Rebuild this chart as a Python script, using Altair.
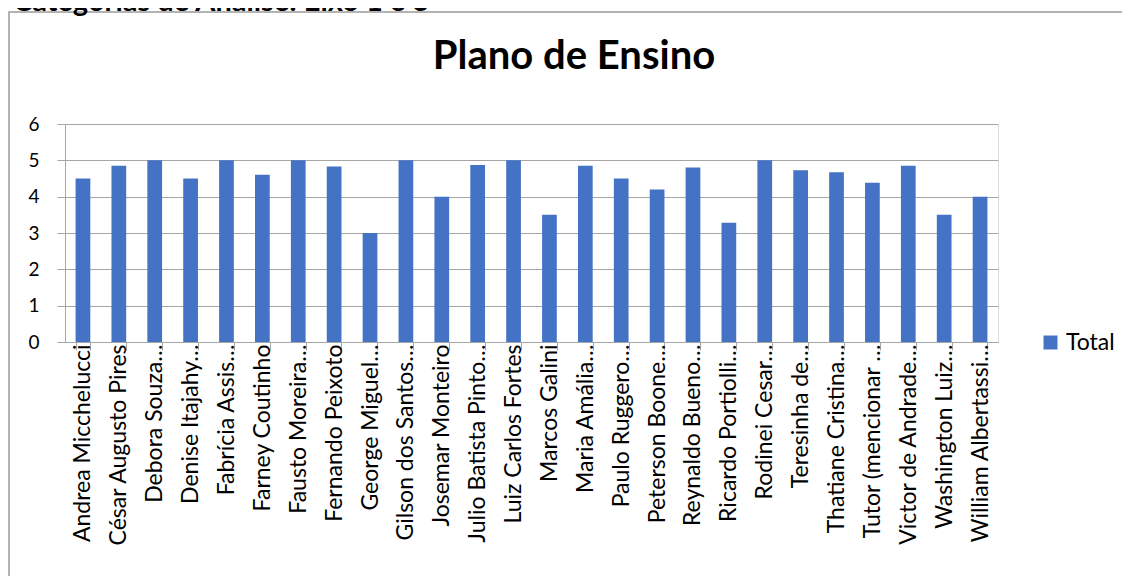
import altair as alt
import pandas as pd

categories = [
    "Andrea Micchelucci", "César Augusto Pires", "Debora Souza…", "Denise Itajahy…",
    "Fabrícia Assis…", "Farney Coutinho", "Fausto Moreira…", "Fernando Peixoto",
    "George Miguel…", "Gilson dos Santos…", "Josemar Monteiro", "Julio Batista Pinto…",
    "Luiz Carlos Fortes", "Marcos Galini", "Maria Amália…", "Paulo Ruggero…",
    "Peterson Boone…", "Reynaldo Bueno…", "Ricardo Portiolli…", "Rodinei Cesar…",
    "Teresinha de…", "Thatiane Cristina…", "Tutor (mencionar …", "Victor de Andrade…",
    "Washington Luiz…", "William Albertassi…",
]
values = [4.5, 4.85, 5, 4.5, 5, 4.6, 5, 4.83, 3, 5, 4, 4.87, 5, 3.5, 4.85, 4.5,
          4.2, 4.8, 3.28, 5, 4.73, 4.67, 4.38, 4.85, 3.5, 4]
series = ["Total"] * len(categories)
y_ticks = [0, 1, 2, 3, 4, 5, 6]

FONT = "Lato"
BLUE = "#4472C4"
GRID = "#a6a6a6"
FRAME = "#b3b3b3"

df = pd.DataFrame({"nome": categories, "valor": values, "serie": series})
one = pd.DataFrame({"k": [0]})

label_expr = "indexof(datum.label, '\u2026') >= 0 ? datum.label : datum.label + '\u2002\u2009'"

bars = alt.Chart(df).mark_bar(color=BLUE).encode(
    x=alt.X(
        "nome:N", sort=categories, title=None,
        scale=alt.Scale(paddingInner=0.59, paddingOuter=0.295),
        axis=alt.Axis(
            labelAngle=270, labelFont=FONT, labelFontSize=23, labelColor="#000000",
            labelLimit=0, labelOverlap=False, labelPadding=-6, labelExpr=label_expr,
            tickBand="extent", tickSize=8, tickColor=GRID, domainColor=GRID,
            ticks=True, grid=False,
        ),
    ),
    y=alt.Y(
        "valor:Q", title=None,
        scale=alt.Scale(domain=[0, 6], nice=False),
        axis=alt.Axis(
            values=y_ticks, labelFont=FONT, labelFontSize=19, labelColor="#000000",
            labelPadding=18, tickSize=8, tickColor=GRID, domainColor=GRID,
            gridColor=GRID, gridWidth=1,
        ),
    ),
    color=alt.Color(
        "serie:N", title=None,
        scale=alt.Scale(range=[BLUE]),
        legend=alt.Legend(
            orient="none", legendX=974, legendY=207, symbolType="square",
            symbolSize=196, symbolStrokeWidth=0, labelFont=FONT, labelFontSize=23,
            labelColor="#000000", labelOffset=4, padding=0,
        ),
    ),
)

frame_top = alt.Chart(one).mark_rule(color=FRAME, strokeWidth=2).encode(
    x=alt.value(-57), x2=alt.value(1100), y=alt.value(-112)
)
frame_left = alt.Chart(one).mark_rule(color=FRAME, strokeWidth=2).encode(
    x=alt.value(-56), y=alt.value(-113), y2=alt.value(470)
)
top_text = alt.Chart(one).mark_text(
    text="Categorias de Análise: Eixo 1 e 3", font=FONT, fontSize=29, fontWeight="bold",
    align="left", baseline="alphabetic", color="#000000",
).encode(x=alt.value(-52), y=alt.value(-113.5))
title_text = alt.Chart(one).mark_text(
    text="Plano de Ensino", font=FONT, fontSize=40, fontWeight="bold",
    align="center", baseline="alphabetic", color="#000000",
).encode(x=alt.value(509), y=alt.value(-54.7))

chart = alt.layer(frame_top, frame_left, top_text, title_text, bars).properties(
    width=933, height=218,
    autosize=alt.AutoSizeParams(type="none"),
    padding={"left": 57, "top": 116, "right": 124, "bottom": 234},
).configure_view(stroke=None).configure(background="white")

chart.save("out.html", embed_options={"renderer": "svg", "actions": False})
